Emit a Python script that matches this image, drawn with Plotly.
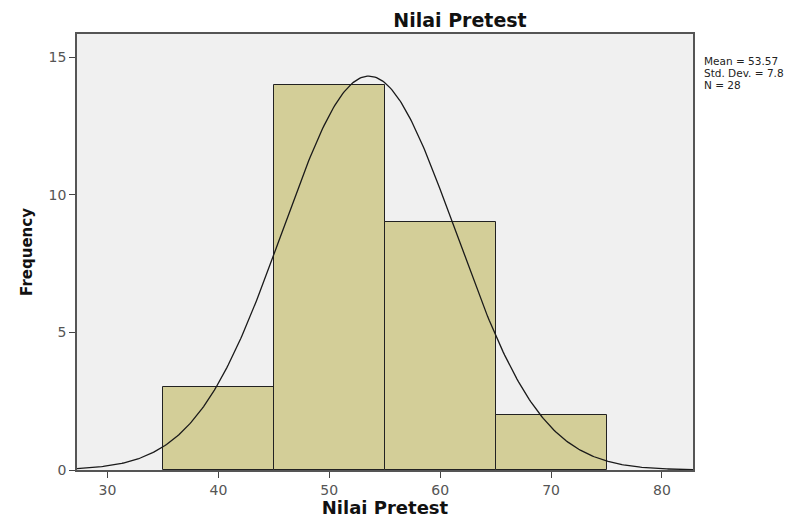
import numpy as np
import plotly.graph_objects as go

bin_starts = [35, 45, 55, 65]
bin_width = 10
frequencies = [3, 14, 9, 2]
mean = 53.57
std_dev = 7.8
n_total = 28
x_ticks = [30, 40, 50, 60, 70, 80]
y_ticks = [0, 5, 10, 15]

centers = [s + bin_width / 2 for s in bin_starts]

xr = [27.25, 82.8]
xs = np.linspace(xr[0], xr[1], 400)
ys = n_total * bin_width / (std_dev * np.sqrt(2 * np.pi)) * np.exp(-0.5 * ((xs - mean) / std_dev) ** 2)

FONT = "DejaVu Sans, Liberation Sans, sans-serif"

fig = go.Figure()
fig.add_trace(go.Bar(x=centers, y=frequencies, width=bin_width,
                     marker=dict(color="#D3CE98", line=dict(color="#222222", width=1)),
                     hoverinfo="skip"))
fig.add_trace(go.Scatter(x=xs, y=ys, mode="lines", line=dict(color="#1a1a1a", width=1.3),
                         hoverinfo="skip"))

fig.update_layout(
    width=811, height=518,
    margin=dict(l=77, r=118, t=34, b=48, autoexpand=False),
    paper_bgcolor="white", plot_bgcolor="#F0F0F0",
    showlegend=False, bargap=0,
    font=dict(family=FONT, color="#333333"),
    title=dict(text="<b>Nilai Pretest</b>", x=460 / 811, xref="container", xanchor="center",
               y=1 - 20 / 518, yref="container", yanchor="middle",
               font=dict(size=19, color="#111111", family=FONT)),
)
fig.update_xaxes(range=xr, tickvals=x_ticks, ticks="outside", ticklen=6, tickcolor="#444",
                 ticklabelstandoff=0, automargin=False,
                 showgrid=False, zeroline=False, showline=True, linecolor="#555", linewidth=1.5,
                 mirror=True, tickfont=dict(size=14, color="#555", family=FONT),
                 title=dict(text="<b>Nilai Pretest</b>", font=dict(size=18, color="#111", family=FONT),
                            standoff=4))
fig.update_yaxes(range=[0, 15.85], tickvals=y_ticks, ticks="outside", ticklen=6, tickcolor="#444",
                 automargin=False,
                 showgrid=False, zeroline=False, showline=True, linecolor="#555", linewidth=1.5,
                 mirror=True, tickfont=dict(size=14, color="#555", family=FONT),
                 title=dict(text="<b>Frequency</b>", font=dict(size=15, color="#111", family=FONT),
                            standoff=12))

stats = [f"Mean = {mean}", f"Std. Dev. = {std_dev}", f"N = {n_total}"]
for i, t in enumerate(stats):
    fig.add_annotation(text=t, xref="paper", yref="paper", x=1.015, xanchor="left",
                       y=1 - (26.5 + 12 * i) / 436, yanchor="middle", showarrow=False,
                       font=dict(size=10.5, color="#222", family=FONT))

fig.write_html("out.html")
